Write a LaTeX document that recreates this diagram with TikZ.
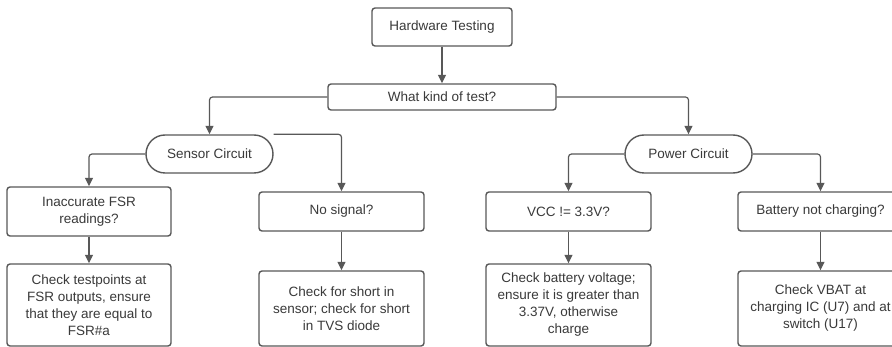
\documentclass[tikz,border=0pt]{standalone}
\usepackage{fontspec}
\setmainfont{Liberation Sans}
\usetikzlibrary{arrows.meta}
\definecolor{edge}{HTML}{585858}
\definecolor{txt}{HTML}{3A3A3A}
\tikzset{
  box/.style={draw=edge, line width=1.4pt, rounded corners=3pt, fill=white,
    text=txt, align=center, inner sep=0pt,
    font=\fontsize{13.5}{17}\selectfont},
  stadium/.style={box, rounded corners=19pt, minimum width=127pt, minimum height=38pt},
  conn/.style={draw=edge, line width=1.2pt, rounded corners=3pt,
    -{Triangle[length=8.5pt,width=8pt]}},
}
\begin{document}
\begin{tikzpicture}[x=1pt,y=-1pt]
\fill[white] (0,0) rectangle (892,347);
\clip (0,0) rectangle (892,347);
\useasboundingbox (0,0) rectangle (892,347);
% nodes
\node[box, minimum width=140pt, minimum height=38pt] (hw) at (442,27) {Hardware Testing};
\node[box, minimum width=228pt, minimum height=26pt] (wk) at (442,97) {What kind of test?};
\node[stadium] (sc) at (209.5,154) {Sensor Circuit};
\node[stadium] (pc) at (688.5,154) {Power Circuit};
\node[box, minimum width=164pt, minimum height=49pt] (fsr) at (89,211.5) {Inaccurate FSR\\readings?};
\node[box, minimum width=164pt, minimum height=82pt] (tp) at (89,305) {Check testpoints at\\FSR outputs, ensure\\that they are equal to\\FSR\#a};
\node[box, minimum width=165pt, minimum height=39pt] (ns) at (341.5,211.5) {No signal?};
\node[box, minimum width=165pt, minimum height=75pt] (sh) at (341.5,308.5) {Check for short in\\sensor; check for short\\in TVS diode};
\node[box, minimum width=165pt, minimum height=39pt] (vcc) at (568.5,211.5) {VCC != 3.3V?};
\node[box, minimum width=165pt, minimum height=82pt] (bv) at (568.5,305) {Check battery voltage;\\ensure it is greater than\\3.37V, otherwise\\charge};
\node[box, minimum width=165pt, minimum height=39pt] (bc) at (820.5,211.5) {Battery not charging?};
\node[box, minimum width=165pt, minimum height=75pt] (vb) at (820.5,308.5) {Check VBAT at\\charging IC (U7) and at\\switch (U17)};
% connectors
\draw[conn] (hw.south) -- (wk.north);
\draw[conn] (wk.west) -| (sc.north);
\draw[conn] (wk.east) -| (pc.north);
\draw[conn] (sc.west) -| (fsr.north);
\draw[conn] (sc.north east) -| (ns.north);
\draw[conn] (pc.west) -| (vcc.north);
\draw[conn] (pc.east) -| (bc.north);
\draw[conn] (fsr.south) -- (tp.north);
\draw[conn] (ns.south) -- (sh.north);
\draw[conn] (vcc.south) -- (bv.north);
\draw[conn] (bc.south) -- (vb.north);
\end{tikzpicture}
\end{document}
